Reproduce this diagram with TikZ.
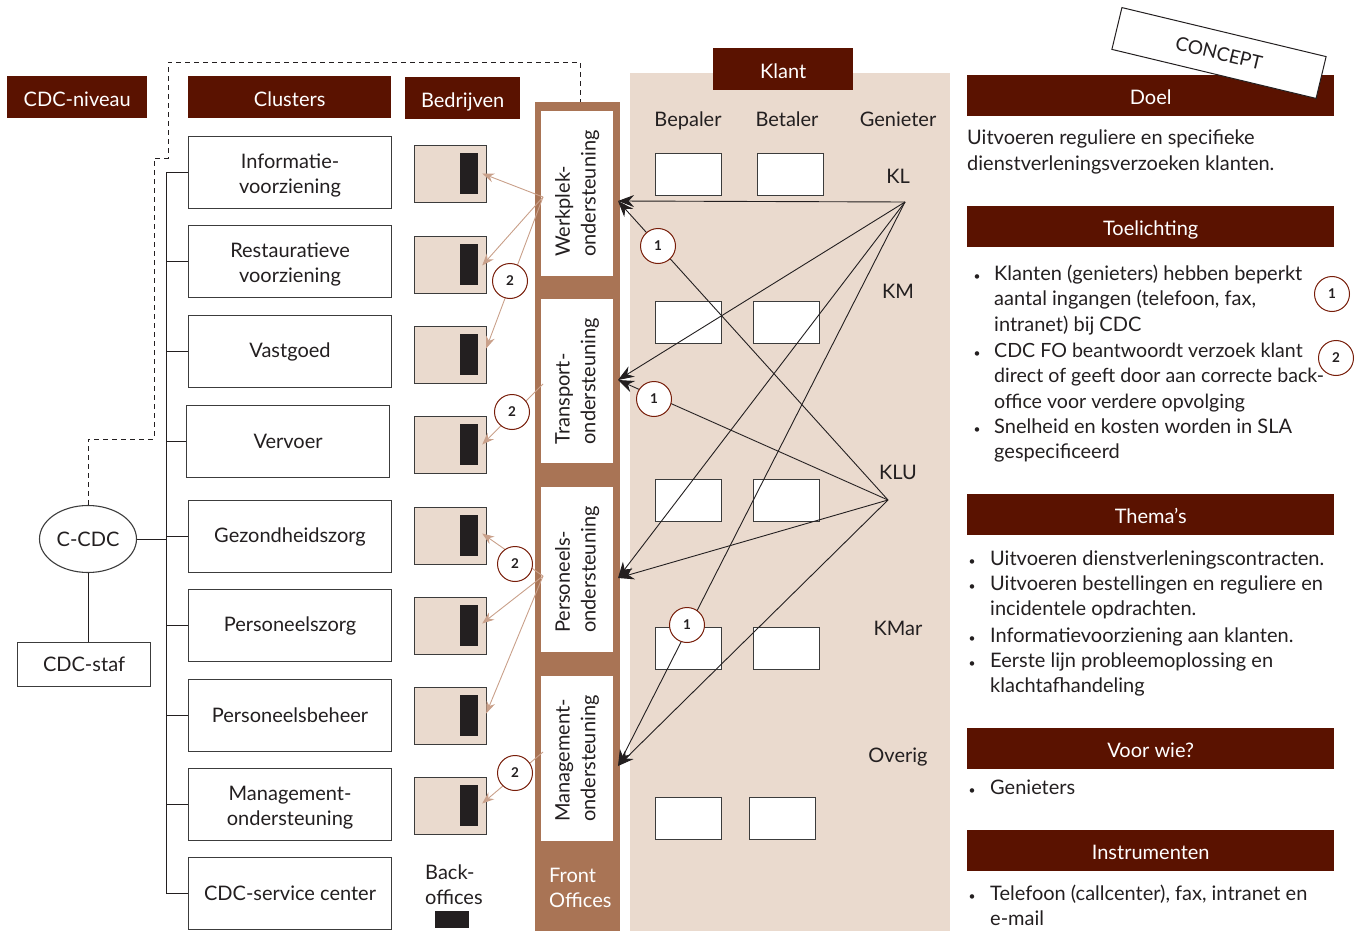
\documentclass[tikz,border=0pt]{standalone}
\usepackage{fontspec}
\setmainfont{Lato}
\usetikzlibrary{arrows.meta,shapes.geometric}
\definecolor{hdr}{RGB}{90,18,0}
\definecolor{pinkbg}{RGB}{234,218,206}
\definecolor{brownbar}{RGB}{169,116,85}
\definecolor{tan}{RGB}{201,160,138}
\definecolor{circred}{RGB}{120,30,10}
\definecolor{txt}{RGB}{35,31,32}
\definecolor{bord}{RGB}{60,60,60}
\newcommand{\mltxt}[1]{\begin{tabular}[t]{@{}l@{}}#1\end{tabular}}
\begin{document}
\begin{tikzpicture}[x=1pt,y=-1pt,
  every node/.style={text=txt},
  base/.style={font=\fontsize{20}{25.6}\selectfont},
  hdrbox/.style={base,fill=hdr,text=white,inner sep=0pt,anchor=north west,text height=18pt,text depth=0pt},
  cbox/.style={base,draw=bord,line width=1.1pt,fill=white,inner sep=0pt,anchor=north west,
    minimum width=203pt,minimum height=72pt,align=center},
  two/.style={cbox,yshift=-4pt,minimum height=80pt,text height=},
  bobox/.style={draw=bord,line width=1.1pt,fill=pinkbg,inner sep=0pt,anchor=north west,
    minimum width=72pt,minimum height=57pt},
  blk/.style={fill=txt,inner sep=0pt,minimum width=18pt,minimum height=41pt},
  fobox/.style={fill=white,inner sep=0pt,anchor=north west,minimum width=72pt,minimum height=165pt},
  fotext/.style={base,rotate=90,align=left,inner sep=0pt},
  kbox/.style={draw=bord,line width=1.1pt,fill=white,inner sep=0pt,anchor=north west,
    minimum width=66pt,minimum height=42pt},
  lbl/.style={base,anchor=base},
  num/.style={circle,draw=circred,line width=1pt,fill=white,minimum size=35pt,inner sep=0pt,
    font=\fontsize{13.5}{13.5}\selectfont\bfseries},
  tanarr/.style={draw=tan,line width=0.9pt,-{Stealth[length=12pt,width=9pt]}},
  blkarr/.style={draw=txt,line width=0.9pt,-{Stealth[length=16pt,width=12pt]}},
  para/.style={base,anchor=base west,inner sep=0pt},
  bul/.style={anchor=base,inner sep=0pt,font=\fontsize{12}{12}\selectfont},
  tline/.style={draw=txt,line width=1pt}
]
\useasboundingbox (0,0) rectangle (1360,931);

% backgrounds
\node[fill=pinkbg,inner sep=0pt,anchor=north west,minimum width=320pt,minimum height=858pt] (klantbg) at (630,73) {};
\node[fill=brownbar,inner sep=0pt,anchor=north west,minimum width=85pt,minimum height=829pt] (fobar) at (535,102) {};

% headers
\node[hdrbox,minimum width=140pt,minimum height=42pt] (h1) at (7,76) {CDC-niveau\hspace{9pt}};
\node[hdrbox,minimum width=203pt,minimum height=42pt] (h2) at (188,76) {Clusters};
\node[hdrbox,minimum width=115pt,minimum height=42pt] (h3) at (405,77) {Bedrijven};
\node[hdrbox,minimum width=140pt,minimum height=42pt] (h4) at (713,48) {Klant};

% clusters
\node[cbox] (c1) at (188,136) {};
\node[cbox] (c2) at (188,225) {};
\node[cbox] (c3) at (188,315) {Vastgoed};
\node[cbox] (c4) at (186,405) {Vervoer};
\node[cbox] (c5) at (188,500) {Gezondheidszorg};
\node[cbox] (c6) at (188,589) {Personeelszorg};
\node[cbox] (c7) at (188,679) {Personeelsbeheer};
\node[cbox] (c8) at (188,768) {};
\node[cbox] (c9) at (188,857) {CDC-service center};
\node[base,align=center,inner sep=0pt,yshift=-3pt] (c1t) at (c1.center) {Informatie-\\voorziening};
\node[base,align=center,inner sep=0pt,yshift=-3pt] (c2t) at (c2.center) {Restauratieve\\voorziening};
\node[base,align=center,inner sep=0pt,yshift=-3pt] (c8t) at (c8.center) {Management-\\ondersteuning};

% tree
\coordinate (trunk) at (166,0);
\draw[tline] (c1.west -| trunk) -- (c9.west -| trunk);
\foreach \i in {1,...,9} { \draw[tline] (c\i.west -| trunk) -- (c\i.west); }

% C-CDC
\node[ellipse,draw=bord,line width=1.1pt,fill=white,minimum width=97pt,minimum height=67pt,inner sep=0pt,base] (cdc) at (88,539) {C-CDC};
\node[base,draw=bord,line width=1.1pt,fill=white,inner sep=0pt,anchor=north west,minimum width=133pt,minimum height=44pt] (staf) at (17,642) {CDC-staf};
\draw[tline] (cdc.east) -- (cdc.east -| trunk);
\draw[tline] (cdc.south) -- (cdc.south |- staf.north);

% dashed
\coordinate (dA) at (154,439);
\coordinate (dB) at (168,158);
\coordinate (dC) at (580,62);
\draw[draw=txt,line width=0.9pt,dash pattern=on 5pt off 4pt] (cdc.north) |- (dA) |- (dB) |- (dC) -- (dC |- fobar.north);

% back offices
\foreach \i/\y in {1/145,2/236,3/326,4/416,5/507,6/597,7/687,8/777} {
  \node[bobox] (bo\i) at (414,\y) {};
  \node[blk] (bk\i) at (469,\y+28.5) {};
}
\node[para] (bolbl) at (425,879) {\mltxt{Back-\\offices}};
\node[fill=txt,inner sep=0pt,anchor=north west,minimum width=34pt,minimum height=17pt] (bolegend) at (435,911) {};

% front offices
\node[fobox] (fo1) at (541,111) {};
\node[fobox,minimum height=164pt] (fo2) at (541,299) {};
\node[fobox] (fo3) at (541,487) {};
\node[fobox] (fo4) at (541,676) {};
\node[fotext] (fot1) at (fo1.center) {Werkplek-\\ondersteuning};
\node[fotext] (fot2) at (fo2.center) {Transport-\\ondersteuning};
\node[fotext] (fot3) at (fo3.center) {Personeels-\\ondersteuning};
\node[fotext] (fot4) at (fo4.center) {Management-\\ondersteuning};
\node[para,text=white] (folbl) at (549,882) {\mltxt{Front\\Offices}};

% klant columns
\node[lbl] (lb1) at (688,127) {Bepaler};
\node[lbl] (lb2) at (787,127) {Betaler};
\node[lbl] (lb3) at (898,127) {Genieter};
\node[lbl] (lkl) at (898,183) {KL};
\node[lbl] (lkm) at (898,298) {KM};
\node[lbl] (lklu) at (898,479) {KLU};
\node[lbl] (lkmar) at (898,635) {KMar};
\node[lbl] (lov) at (898,762) {Overig};
\node[kbox] (k1a) at (655,153) {};
\node[kbox] (k1b) at (757,153) {};
\node[kbox] (k2a) at (655,301) {};
\node[kbox] (k2b) at (753,301) {};
\node[kbox] (k3a) at (655,479) {};
\node[kbox] (k3b) at (753,479) {};
\node[kbox] (k4a) at (655,627) {};
\node[kbox] (k4b) at (753,627) {};
\node[kbox] (k5a) at (655,797) {};
\node[kbox] (k5b) at (749,797) {};

% connection points
\coordinate (pKL) at (905,202);
\coordinate (pKLU) at (888,500);
\coordinate (inW) at (618,201);
\coordinate (inT) at (618,380);
\coordinate (inP) at (618,578);
\coordinate (inM) at (618,766);
\coordinate (oW) at (543,197);
\coordinate (oT) at (543,384);
\coordinate (oP) at (543,576);
\coordinate (oM) at (543,752);

% black arrows
\foreach \s in {pKL,pKLU} {
  \foreach \t in {inW,inT,inP,inM} { \draw[blkarr] (\s) -- (\t); }
}
% tan arrows
\draw[tanarr] (oW) -- ([xshift=4pt]bk1.east);
\draw[tanarr] (oW) -- ([xshift=4pt,yshift=-1pt]bk2.east);
\draw[tanarr] (oW) -- ([xshift=8pt,yshift=6pt]bk3.east);
\draw[tanarr] (oT) -- ([xshift=4pt]bk4.east);
\draw[tanarr] (oP) -- ([xshift=4pt,yshift=2pt]bk5.east);
\draw[tanarr] (oP) -- ([xshift=4pt,yshift=2pt]bk6.east);
\draw[tanarr] (oP) -- ([xshift=8pt,yshift=2pt]bk7.east);
\draw[tanarr] (oM) -- ([xshift=4pt,yshift=2pt]bk8.east);

% number circles
\node[num] (n1a) at (658,246) {1};
\node[num] (n1b) at (654,399) {1};
\node[num] (n1c) at (687,625) {1};
\node[num] (n2a) at (510,281) {2};
\node[num] (n2b) at (512,412) {2};
\node[num] (n2c) at (515,564) {2};
\node[num] (n2d) at (515,773) {2};

% right panel
\node[hdrbox,minimum width=367pt,minimum height=41pt] (r1) at (967,75) {Doel};
\node[hdrbox,minimum width=367pt,minimum height=41pt] (r2) at (967,206) {Toelichting};
\node[hdrbox,minimum width=367pt,minimum height=41pt] (r3) at (967,494) {Thema’s};
\node[hdrbox,minimum width=367pt,minimum height=41pt] (r4) at (967,728) {Voor wie?};
\node[hdrbox,minimum width=367pt,minimum height=41pt] (r5) at (967,830) {Instrumenten};

\node[para] (t1) at (967,145) {\mltxt{Uitvoeren reguliere en specifieke\\dienstverleningsverzoeken klanten.}};

\node[bul] (b1) at (977,280) {•};
\node[para] (t2) at (994,280) {\mltxt{Klanten (genieters) hebben beperkt\\aantal ingangen (telefoon, fax,\\intranet) bij CDC}};
\node[bul] (b2) at (977,357) {•};
\node[para,font=\fontsize{19.6}{25.6}\selectfont] (t3) at (994,357) {\mltxt{CDC FO beantwoordt verzoek klant\\direct of geeft door aan correcte back-\\office voor verdere opvolging}};
\node[bul] (b3) at (977,433) {•};
\node[para] (t4) at (994,433) {\mltxt{Snelheid en kosten worden in SLA\\gespecificeerd}};
\node[num] (rn1) at (1332,294) {1};
\node[num] (rn2) at (1336,358) {2};

\node[bul] (b4) at (972,565) {•};
\node[para] (t5) at (990,565) {Uitvoeren dienstverleningscontracten.};
\node[bul] (b5) at (972,590) {•};
\node[para] (t6) at (990,590) {\mltxt{Uitvoeren bestellingen en reguliere en\\incidentele opdrachten.}};
\node[bul] (b6) at (972,642) {•};
\node[para] (t7) at (990,642) {Informatievoorziening aan klanten.};
\node[bul] (b7) at (972,667) {•};
\node[para] (t8) at (990,667) {\mltxt{Eerste lijn probleemoplossing en\\klachtafhandeling}};

\node[bul] (b8) at (972,794) {•};
\node[para] (t9) at (990,794) {Genieters};

\node[bul] (b9) at (972,900) {•};
\node[para] (t10) at (990,900) {\mltxt{Telefoon (callcenter), fax, intranet en\\e-mail}};

% concept stamp
\node[draw=txt,line width=1pt,fill=white,rotate=-13.5,minimum width=210pt,minimum height=43pt,inner sep=0pt,
  font=\fontsize{19}{19}\selectfont] (stamp) at (1219,53) {CONCEPT};
\end{tikzpicture}
\end{document}
